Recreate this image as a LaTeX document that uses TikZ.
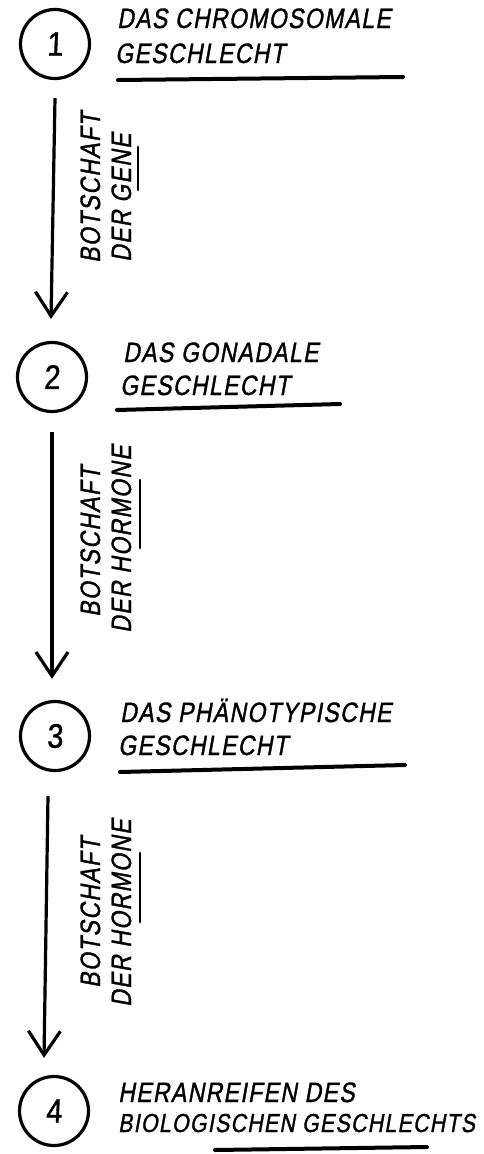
\documentclass[tikz,border=0pt]{standalone}
\usepackage{fontspec}
\newfontfamily\handfont[LetterSpace=5, FakeStretch=0.82, FakeSlant=0.18, FakeBold=1.2]{Liberation Sans}
\newfontfamily\digitfont[FakeStretch=0.85, FakeSlant=0.05, FakeBold=1]{Liberation Sans}
\usetikzlibrary{arrows.meta}
\usetikzlibrary{calc}

\begin{document}
\begin{tikzpicture}[x=1pt, y=-1pt]
	\tikzstyle{stage}   = [circle, draw, line width=3.2pt, minimum size=69pt, inner sep=0pt, font=\digitfont\fontsize{34}{34}\selectfont]
	\tikzstyle{heading} = [anchor=base west, inner sep=0pt, font=\handfont\fontsize{28}{28}\selectfont]
	\tikzstyle{msg}     = [rotate=90, anchor=base west, inner sep=0pt, font=\handfont\fontsize{28}{28}\selectfont]
	\tikzstyle{flow}    = [line width=3.2pt, -{Straight Barb[length=24pt, width=32pt]}]
	\tikzstyle{inkline} = [line width=4pt, line cap=round]
	\useasboundingbox (0,0) rectangle (484,1154);

	%% stages
	\node [stage](c1) at (55, 44) {1};
	\node [stage](c2) at (52, 377) {2};
	\node [stage](c3) at (55, 736) {3};
	\node [stage](c4) at (54, 1111) {4};

	%% headings
	\node [heading](t1a) at (117, 28) {DAS CHROMOSOMALE};
	\node [heading](t1b) at (115, 63) {GESCHLECHT};
	\node [heading](t2a) at (123, 362) {DAS GONADALE};
	\node [heading](t2b) at (120, 395) {GESCHLECHT};
	\node [heading](t3a) at (120, 722) {DAS PHÄNOTYPISCHE};
	\node [heading](t3b) at (118, 755) {GESCHLECHT};
	\node [heading](t4a) at (118, 1102) {HERANREIFEN DES};
	\node [heading, font=\handfont\fontsize{26}{26}\selectfont](t4b) at (118, 1132) {BIOLOGISCHEN GESCHLECHTS};

	\draw[inkline] (118, 80) -- (403, 77);
	\draw[inkline] (117, 410) -- (340, 404);
	\draw[inkline] (120, 772) -- (405, 765);
	\draw[inkline] (215, 1150) -- (427, 1147);

	%% messages
	\node [msg](m1a) at (100, 263) {BOTSCHAFT};
	\node [msg](m1b) at (131, 262) {DER GENE};
	\node [msg](m2a) at (100, 617) {BOTSCHAFT};
	\node [msg](m2b) at (131, 633) {DER HORMONE};
	\node [msg](m3a) at (100, 988) {BOTSCHAFT};
	\node [msg](m3b) at (131, 1007) {DER HORMONE};

	\draw[inkline, line width=2.8pt] (138, 147) -- (138, 190);
	\draw[inkline, line width=2.8pt] (140, 480) -- (140, 548);
	\draw[inkline, line width=2.8pt] (140, 853) -- (140, 922);

	\draw[flow] ($(c1.south) + (0, 18)$) -- ($(c2.north) + (-1, -22)$);
	\draw[flow] ($(c2.south) + (0, 19)$) -- ($(c3.north) + (-3, -21)$);
	\draw[flow] ($(c3.south) + (-7, 24)$) -- ($(c4.north) + (-10, -17)$);
\end{tikzpicture}
\end{document}
